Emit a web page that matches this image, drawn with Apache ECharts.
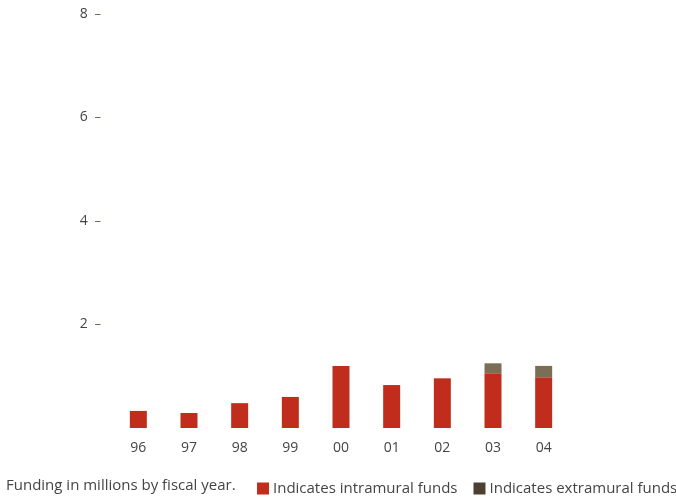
<!DOCTYPE html>
<html>
<head>
<meta charset="utf-8">
<script src="https://cdn.jsdelivr.net/npm/echarts@6/dist/echarts.min.js"></script>
<style>
  html, body { margin: 0; padding: 0; background: #fff; }
  #chart { width: 676px; height: 498px; }
</style>
</head>
<body>
<div id="chart"></div>
<script>
// Fiscal years and funding (millions)
const years = ['96', '97', '98', '99', '00', '01', '02', '03', '04'];
const intramural = [0.33, 0.29, 0.48, 0.60, 1.20, 0.83, 0.96, 1.06, 0.98];
const extramural = [0, 0, 0, 0, 0, 0, 0, 0.19, 0.22];
const yTicks = [2, 4, 6, 8];

const FONT = '"Open Sans", "Noto Sans", sans-serif';
const RED = '#c12d1c';
const BROWN = '#7a6e56';

const chart = echarts.init(document.getElementById('chart'));
chart.setOption({
  animation: false,
  grid: { left: 113, right: 107, top: 14, bottom: 70 },
  xAxis: {
    type: 'category',
    data: years,
    axisLine: { show: false },
    axisTick: { show: false },
    axisLabel: { color: '#444', fontSize: 14, fontFamily: FONT, margin: 13 }
  },
  yAxis: {
    type: 'value',
    min: 0, max: 8, interval: 2,
    splitLine: { show: false },
    axisLine: { show: false },
    axisTick: { show: false },
    axisLabel: {
      margin: 12,
      formatter: v => yTicks.includes(v) ? '{n|' + v + '}  {d|–}' : '',
      rich: {
        n: { color: '#444', fontSize: 14, fontFamily: FONT },
        d: { color: '#6e6048', fontSize: 13, fontFamily: FONT }
      }
    }
  },
  legend: {
    left: 257, top: 481, width: 600,
    padding: 0,
    itemWidth: 12, itemHeight: 12, itemGap: 16,
    icon: 'rect',
    textStyle: { color: '#444', fontSize: 15, fontFamily: FONT, padding: [0, 0, 0, -1] },
    data: [
      { name: 'Indicates intramural funds', itemStyle: { color: RED } },
      { name: 'Indicates extramural funds', itemStyle: { color: '#4c4030' } }
    ]
  },
  graphic: [{
    type: 'text', left: 6, top: 478,
    style: { text: 'Funding in millions by fiscal year.', fill: '#444', fontSize: 15, fontFamily: FONT }
  }],
  series: [
    {
      name: 'Indicates intramural funds', type: 'bar', stack: 'f',
      data: intramural, barWidth: 17, itemStyle: { color: RED }
    },
    {
      name: 'Indicates extramural funds', type: 'bar', stack: 'f',
      data: extramural, barWidth: 17, itemStyle: { color: BROWN }
    }
  ]
});
</script>
</body>
</html>
